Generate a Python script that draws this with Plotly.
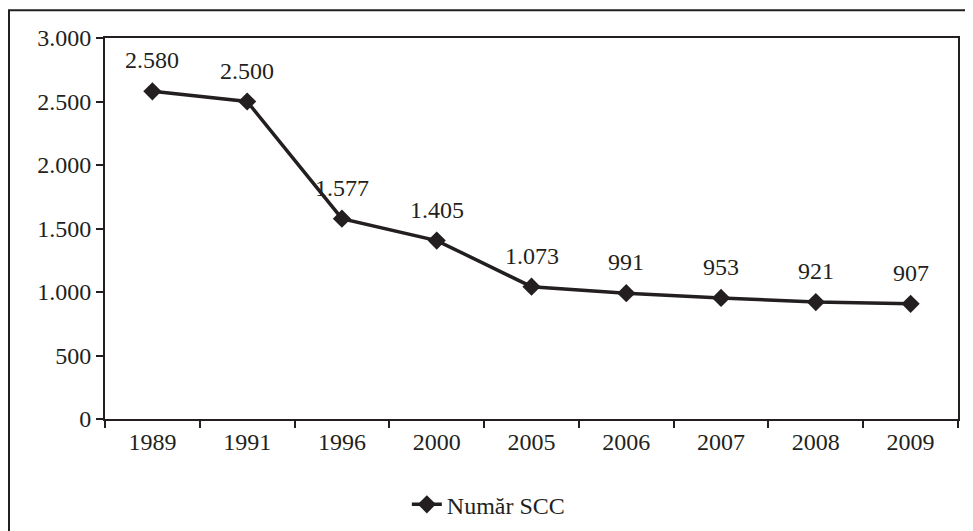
import plotly.graph_objects as go

years = ["1989", "1991", "1996", "2000", "2005", "2006", "2007", "2008", "2009"]
values = [2580, 2500, 1577, 1405, 1042, 991, 953, 921, 907]
labels = ["2.580", "2.500", "1.577", "1.405", "1.073", "991", "953", "921", "907"]
y_ticks = [0, 500, 1000, 1500, 2000, 2500, 3000]
y_ticktext = ["0", "500", "1.000", "1.500", "2.000", "2.500", "3.000"]
series_name = "Număr SCC"

INK = "#231f20"
FONT = "Liberation Serif"
FS = 24

fig = go.Figure()
fig.add_trace(go.Scatter(
    x=years, y=values, name=series_name, mode="lines+markers",
    line=dict(color=INK, width=3.5),
    marker=dict(symbol="diamond", size=14, color=INK),
))

for i, (v, lab) in enumerate(zip(values, labels)):
    fig.add_annotation(x=i, y=v, xref="x", yref="y", text=lab, showarrow=False, yshift=31,
                       font=dict(family=FONT, size=FS, color=INK))

fig.update_layout(
    width=973, height=531,
    margin=dict(l=97, r=23, t=30, b=118),
    paper_bgcolor="white", plot_bgcolor="white",
    font=dict(family=FONT, size=FS, color=INK),
    showlegend=True,
    legend=dict(orientation="h", x=0.45, xanchor="center", y=-0.225, yanchor="middle",
                font=dict(family=FONT, size=FS, color=INK)),
    xaxis=dict(type="category", range=[-0.5, len(years) - 0.5], showgrid=False,
               showline=True, linecolor=INK, linewidth=2, automargin=False, tickangle=0,
               mirror=True, ticks="outside", tickson="boundaries", ticklen=7,
               tickwidth=2, tickcolor=INK, zeroline=False),
    yaxis=dict(range=[0, 3000], tickvals=y_ticks, ticktext=y_ticktext, showgrid=False,
               showline=True, linecolor=INK, linewidth=2, mirror=True, ticks="outside",
               automargin=False,
               ticklen=7, tickwidth=2, tickcolor=INK, zeroline=False),
    shapes=[dict(type="rect", xref="paper", yref="paper",
                 x0=(9 - 105) / 853, x1=1.1, y0=-0.6, y1=1 + 28 / 383,
                 line=dict(color=INK, width=2), fillcolor="rgba(0,0,0,0)", layer="below")],
)

fig.write_html("out.html")
